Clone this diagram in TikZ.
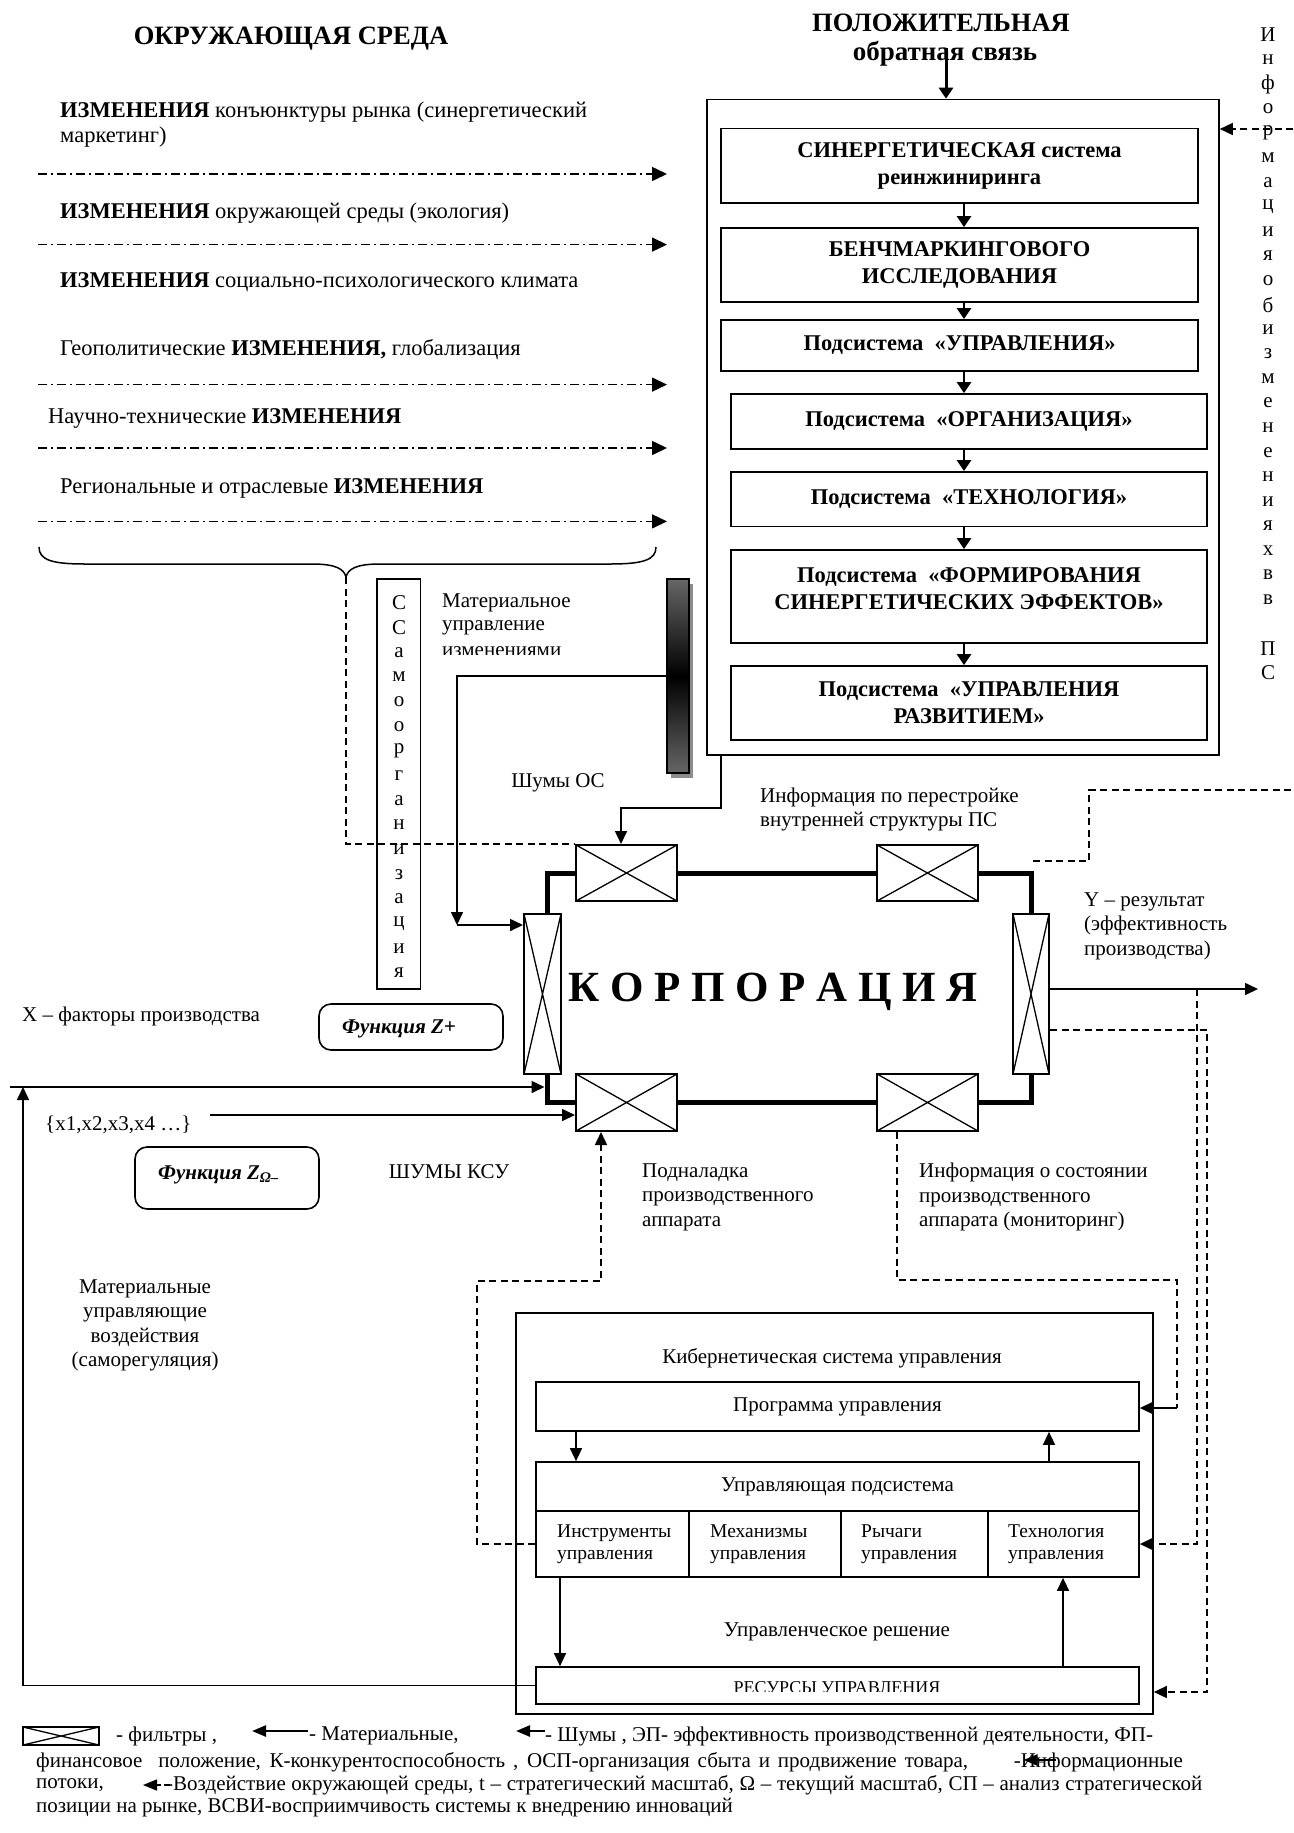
\documentclass[tikz,border=0pt]{standalone}
\usepackage{fontspec}
\setmainfont{Liberation Serif}
\usetikzlibrary{arrows.meta,calc}

% font sizes (1 unit = 1pt)
\newcommand{\FtNorm}{\fontsize{21}{24.5}\selectfont}
\newcommand{\FtEnv}{\fontsize{22.5}{25}\selectfont}
\newcommand{\FtTitle}{\fontsize{26.5}{30}\selectfont\bfseries}
\newcommand{\FtSub}{\fontsize{27}{28}\selectfont\bfseries}
\newcommand{\FtBox}{\fontsize{22.5}{27}\selectfont\bfseries}
\newcommand{\FtKorp}{\fontsize{43}{46}\selectfont\bfseries}
\newcommand{\FtCell}{\fontsize{19.5}{22}\selectfont}
\newcommand{\FtRes}{\fontsize{18}{20}\selectfont}
\newcommand{\FtLeg}{\fontsize{21}{22}\selectfont}
\newcommand{\FtFunc}{\fontsize{21}{24}\selectfont\bfseries\itshape}

\tikzset{
  x=1pt, y=-1pt,
  txt/.style={font=\FtNorm, inner sep=0pt},
  envtxt/.style={font=\FtEnv, inner sep=0pt, anchor=west},
  envarrow/.style={line width=1.5pt, dash pattern=on 9pt off 4pt on 2pt off 4pt,
    -{Triangle[length=15pt,width=14pt]}},
  matarrow/.style={line width=1.6pt, -{Triangle[length=13pt,width=12pt]}},
  psarrow/.style={line width=2.6pt, -{Triangle[length=11pt,width=14pt]}},
  infoline/.style={line width=1.6pt, dash pattern=on 7pt off 4.5pt},
  infoarrow/.style={infoline, -{Triangle[length=13pt,width=12pt]}},
  psbox/.style={draw, line width=1.8pt, inner sep=0pt, align=center, font=\FtBox},
  ksubox/.style={draw, line width=1.7pt, inner sep=0pt, font=\FtNorm},
  funcbox/.style={draw, line width=1.6pt, rounded corners=12pt, inner sep=0pt},
  thickflow/.style={line width=5pt},
  filter/.style={draw, fill=white, line width=2pt, inner sep=0pt,
    path picture={\draw[line width=1.3pt]
      (path picture bounding box.north west) -- (path picture bounding box.south east)
      (path picture bounding box.south west) -- (path picture bounding box.north east);}},
  legarr/.style={line width=2.5pt, -{Triangle[length=14pt,width=11pt]}},
  legtxt/.style={font=\FtLeg, inner sep=0pt, anchor=west},
}

\begin{document}
\begin{tikzpicture}
\fill[white] (0,0) rectangle (1293,1833);
\useasboundingbox (0,0) rectangle (1293,1833);

% ---------- titles ----------
\node[txt, font=\FtTitle] (tEnv) at (291,39) {ОКРУЖАЮЩАЯ СРЕДА};
\node[txt, font=\FtTitle] (tPos) at (941,23) {ПОЛОЖИТЕЛЬНАЯ};
\node[txt, font=\FtSub] (tFb) at (945,54) {обратная связь};

% ---------- environment changes ----------
\node[envtxt] (e1a) at (60,112.5) {\textbf{ИЗМЕНЕНИЯ} конъюнктуры рынка (синергетический};
\node[envtxt] (e1b) at (60,137.5) {маркетинг)};
\node[envtxt] (e2) at (60,213.6) {\textbf{ИЗМЕНЕНИЯ} окружающей среды (экология)};
\node[envtxt] (e3) at (60,282) {\textbf{ИЗМЕНЕНИЯ} социально-психологического климата};
\node[envtxt] (e4) at (60,350) {Геополитические \textbf{ИЗМЕНЕНИЯ,} глобализация};
\node[envtxt] (e5) at (48,418.6) {Научно-технические \textbf{ИЗМЕНЕНИЯ}};
\node[envtxt] (e6) at (60,488.6) {Региональные и отраслевые \textbf{ИЗМЕНЕНИЯ}};
\foreach \yy [count=\i] in {174,244.6,384.6,448,521.4}{
  \coordinate (ea\i) at (38,\yy);
  \coordinate (eb\i) at (667,\yy);
  \draw[envarrow] (ea\i) -- (eb\i);
}

% brace gathering the changes
\coordinate (brL) at (39,547);
\coordinate (brR) at (656,547);
\coordinate (brT) at (346,577);
\draw[line width=1.5pt] (brL) .. controls (39,560) and (52,564) .. (85,564) -- (312,564)
  .. controls (336,564) and (344,569) .. (brT)
  .. controls (348,569) and (356,564) .. (380,564) -- (610,564)
  .. controls (643,564) and (656,560) .. (brR);

% ---------- self-organisation column ----------
\node[draw, line width=1.5pt, minimum width=43.5pt, minimum height=410pt, inner sep=0pt] (so) at (398.75,784) {};
\foreach \c [count=\i from 0] in {С,С,а,м,о,о,р,г,а,н,и,з,а,ц,и,я}
  \node[txt] (so\i) at (399,{603+24.67*\i}) {\c};

\node[txt, anchor=west] (mt1) at (442,603) {Материальное};
\node[txt, anchor=west] (mt2) at (442,628) {управление};
\begin{scope}
  \clip (430,640) rectangle (650,654);
  \node[txt, anchor=west] (mt3) at (442,652) {изменениями};
\end{scope}

% shaded bar
\node[fill=black!45, minimum width=22pt, minimum height=194pt, inner sep=0pt] (barSh) at (682,681) {};
\node[draw, line width=2pt, minimum width=22pt, minimum height=194pt, inner sep=0pt,
  top color=black!60, bottom color=black!60, middle color=black] (bar) at (678,676) {};

% ---------- positive feedback system ----------
\node[draw, line width=1.6pt, minimum width=512pt, minimum height=655.5pt, inner sep=0pt] (ps) at (963,427.25) {};
\node[psbox, minimum width=477pt, minimum height=74pt] (b1) at (959.5,165.6) {СИНЕРГЕТИЧЕСКАЯ система\\реинжиниринга};
\node[psbox, minimum width=477pt, minimum height=74pt] (b2) at (959.5,265) {БЕНЧМАРКИНГОВОГО\\ИССЛЕДОВАНИЯ};
\node[psbox, minimum width=477pt, minimum height=51pt] (b3) at (959.5,345.5) {Подсистема\ \ «УПРАВЛЕНИЯ»};
\node[psbox, minimum width=476pt, minimum height=55pt] (b4) at (969,421.5) {Подсистема\ \ «ОРГАНИЗАЦИЯ»};
\node[psbox, minimum width=476pt, minimum height=54.5pt] (b5) at (969,499.25) {Подсистема\ \ «ТЕХНОЛОГИЯ»};
\node[psbox, minimum width=476pt, minimum height=93pt] (b6) at (969,596.5) {};
\node[txt, font=\FtBox, align=center] (b6t) at (969,588.5) {Подсистема\ \ «ФОРМИРОВАНИЯ\\СИНЕРГЕТИЧЕСКИХ ЭФФЕКТОВ»};
\node[psbox, minimum width=476pt, minimum height=74pt] (b7) at (969,703) {Подсистема\ \ «УПРАВЛЕНИЯ\\РАЗВИТИЕМ»};

\coordinate (ax) at (964,0);
\foreach \a/\b in {b1/b2,b2/b3,b3/b4,b4/b5,b5/b6,b6/b7}
  \draw[psarrow] (\a.south -| ax) -- (\b.north -| ax);
\coordinate (fbA) at (946,48);
\draw[psarrow, line width=3pt] (fbA) -- (fbA |- ps.north);

% information about changes in the system
\foreach \c [count=\i from 0] in {И,н,ф,о,р,м,а,ц,и,я,о,б,и,з,м,е,н,е,н,и,я,х,в,в,{},П,С}
  \node[txt] (vi\i) at (1268,{35+24.54*\i}) {\c};
\coordinate (inR) at (1293,129);
\draw[infoarrow] (inR) -- (inR -| ps.east);

% ---------- corporation ----------
\node[filter, minimum width=101pt, minimum height=56pt] (f1) at (626.5,873) {};
\node[filter, minimum width=101pt, minimum height=56pt] (f2) at (927.5,873) {};
\node[filter, minimum width=101pt, minimum height=57pt] (f3) at (626.5,1102.5) {};
\node[filter, minimum width=101pt, minimum height=57pt] (f4) at (927.5,1102.5) {};
\node[filter, minimum width=37pt, minimum height=160pt] (fL) at (542.5,994) {};
\node[filter, minimum width=36pt, minimum height=160pt] (fR) at (1031,994) {};

\coordinate (lx) at (547,0);
\draw[thickflow] (fL.north -| lx) |- (f1.west);
\draw[thickflow] (f1.east) -- (f2.west);
\draw[thickflow] (f2.east) -| (fR.north);
\draw[thickflow] (fR.south) |- (f4.east);
\draw[thickflow] (f4.west) -- (f3.east);
\draw[thickflow] (f3.west) -| (fL.south -| lx);

\node[txt, font=\FtKorp] (korp) at (773,992) {К О Р П О Р А Ц И Я};

% inputs from the environment side
\draw[infoline] (brT) |- (f1.north west);
\coordinate (mA) at (457,925);
\draw[matarrow] (bar.west) -| (mA);
\draw[matarrow] (mA) -- (mA -| fL.west);
\coordinate (pA) at (721,808);
\coordinate (pB) at (621,808);
\draw[matarrow] (ps.south -| pA) -- (pA) -- (pB) -- (pB |- f1.north);

\node[txt] (shOS) at (558,783) {Шумы ОС};
\node[txt, anchor=west, align=left] (infoRe) at (760,809.5) {Информация по перестройке\\внутренней структуры ПС};

\coordinate (dT1) at (1033,861);
\coordinate (dT2) at (1089,790);
\coordinate (dT3) at (1293,790);
\draw[infoline] (dT1) -| (dT2) -- (dT3);

\node[txt, anchor=west, align=left] (yRes) at (1084,926) {Y – результат\\(эффективность\\производства)};
\coordinate (yOut) at (1258,989);
\draw[matarrow] (fR.east |- yOut) -- (yOut);

\node[txt, anchor=west, align=left] (podn) at (642,1197) {Подналадка\\производственного\\аппарата};
\node[txt, anchor=west, align=left] (infoSt) at (919,1197) {Информация о состоянии\\производственного\\аппарата (мониторинг)};

% ---------- left lower part ----------
\node[txt, anchor=west] (xF) at (22,1016) {X – факторы производства};
\node[funcbox, minimum width=184pt, minimum height=46pt] (zPlus) at (411,1027) {};
\node[txt, anchor=west, font=\FtFunc] (zPlusT) at (342,1029) {Функция Z+};

\coordinate (lineTopL) at (10,1087);
\draw[matarrow] (lineTopL) -- ($(lx |- lineTopL)+(-2.5,0)$);
\coordinate (lineX) at (210,1115);
\draw[matarrow] (lineX) -- (lineX -| f3.west);
\node[txt, anchor=west] (xSet) at (45,1125) {\{x1,x2,x3,x4 …\}};

\node[funcbox, minimum width=184pt, minimum height=62pt] (zMin) at (227,1178) {};
\node[txt, anchor=west, font=\FtFunc] (zMinT) at (158,1175) {Функция Z\textsubscript{Ω–}};
\node[txt] (shKSU) at (449,1172) {ШУМЫ КСУ};
\node[txt, align=center] (matUpr) at (145,1325.5) {Материальные\\управляющие\\воздействия\\(саморегуляция)};

% ---------- cybernetic control system ----------
\node[ksubox, minimum width=637pt, minimum height=401pt] (ksu) at (834.5,1513.5) {};
\node[txt] (ksuT) at (832,1358) {Кибернетическая система управления};
\node[ksubox, minimum width=603pt, minimum height=49pt] (prog) at (837.5,1406.5) {Программа управления};
\node[ksubox, minimum width=603pt, minimum height=49pt] (upr) at (837.5,1486.5) {Управляющая подсистема};
\node[ksubox, minimum width=153pt, minimum height=66pt] (cInst) at (612.5,1544) {};
\node[ksubox, minimum width=152pt, minimum height=66pt] (cMech) at (765,1544) {};
\node[ksubox, minimum width=147pt, minimum height=66pt] (cLev) at (914.5,1544) {};
\node[ksubox, minimum width=151pt, minimum height=66pt] (cTech) at (1063.5,1544) {};
\node[txt, anchor=west, align=left, font=\FtCell] (tInst) at (557,1544) {Инструменты\\управления};
\node[txt, anchor=west, align=left, font=\FtCell] (tMech) at (710,1544) {Механизмы\\управления};
\node[txt, anchor=west, align=left, font=\FtCell] (tLev) at (861,1544) {Рычаги\\управления};
\node[txt, anchor=west, align=left, font=\FtCell] (tTech) at (1008,1544) {Технология\\управления};
\node[txt] (decT) at (837,1632) {Управленческое решение};
\node[ksubox, minimum width=603pt, minimum height=37pt] (res) at (837.5,1685.5) {};
\begin{scope}
  \clip (540,1670) rectangle (1135,1691);
  \node[txt, font=\FtRes] (resT) at (837,1688) {РЕСУРСЫ УПРАВЛЕНИЯ};
\end{scope}

\coordinate (kx1) at (576,0);
\coordinate (kx2) at (1049,0);
\coordinate (kx3) at (560,0);
\coordinate (kx4) at (1063,0);
\draw[matarrow, line width=1.4pt] (prog.south -| kx1) -- (upr.north -| kx1);
\draw[matarrow, line width=1.4pt] (upr.north -| kx2) -- (prog.south -| kx2);
\draw[matarrow, line width=1.4pt] (cInst.south -| kx3) -- (res.north -| kx3);
\draw[matarrow, line width=1.4pt] (res.north -| kx4) -- (cTech.south -| kx4);

% material control actions back to the input
\coordinate (vTop) at (23,1087);
\draw[matarrow] (res.west) -| (vTop);

% information loops
\coordinate (dA) at (1197,989);
\draw[infoarrow] (dA) |- (cTech.east);
\coordinate (dB) at (1207,1030);
\coordinate (dB2) at (1207,1692);
\draw[infoarrow] (fR.east |- dB) -- (dB) -- (dB2) -- (dB2 -| ksu.east);
\coordinate (dC1) at (897,1280);
\coordinate (dC2) at (1177,1408);
\draw[infoline] (f4.south -| dC1) -- (dC1) -| (dC2);
\draw[matarrow, line width=1.4pt] (dC2) -- (dC2 -| prog.east);
\coordinate (dD1) at (477,1281);
\coordinate (dD2) at (601,1281);
\draw[infoarrow] (cInst.west) -| (dD1) -- (dD2) -- (dD2 |- f3.south);

% ---------- legend ----------
\node[filter, minimum width=76pt, minimum height=18pt] (legF) at (61,1736) {};
\node[legtxt] (leg1a) at (116,1736) {- фильтры ,};
\coordinate (lg1s) at (308,1731);
\coordinate (lg1e) at (252,1731);
\draw[legarr] (lg1s) -- (lg1e);
\node[legtxt] (leg1b) at (309,1736) {- Материальные,};
\coordinate (lg2s) at (545,1731);
\coordinate (lg2e) at (516,1731);
\draw[legarr] (lg2s) -- (lg2e);
\node[legtxt] (leg1c) at (545,1736) {- Шумы , ЭП- эффективность производственной деятельности, ФП-};

\node[legtxt] (leg2a) at (36,1762) {\makebox[932pt][s]{финансовое\ \ положение, К-конкурентоспособность , ОСП-организация сбыта и продвижение товара,}};
\node[legtxt, anchor=east] (leg2b) at (1183,1762) {-Информационные};
\coordinate (lg3s) at ($(leg2b.west)+(42,-2)$);
\coordinate (lg3e) at ($(leg2b.west)+(10,-2)$);
\draw[legarr] (lg3s) -- (lg3e);

\node[legtxt] (leg3a) at (36,1785) {потоки,};
\coordinate (lg4s) at (170,1785);
\coordinate (lg4e) at (143,1785);
\draw[legarr, line width=1.5pt, dash pattern=on 6pt off 3pt] (lg4s) -- (lg4e);
\node[legtxt] (leg3b) at (166,1785) {\makebox[1036pt][s]{-Воздействие окружающей среды, t – стратегический масштаб, Ω – текущий масштаб, СП – анализ стратегической}};
\node[legtxt] (leg4) at (36,1808) {позиции на рынке, ВСВИ-восприимчивость системы к внедрению инноваций};
\end{tikzpicture}
\end{document}
